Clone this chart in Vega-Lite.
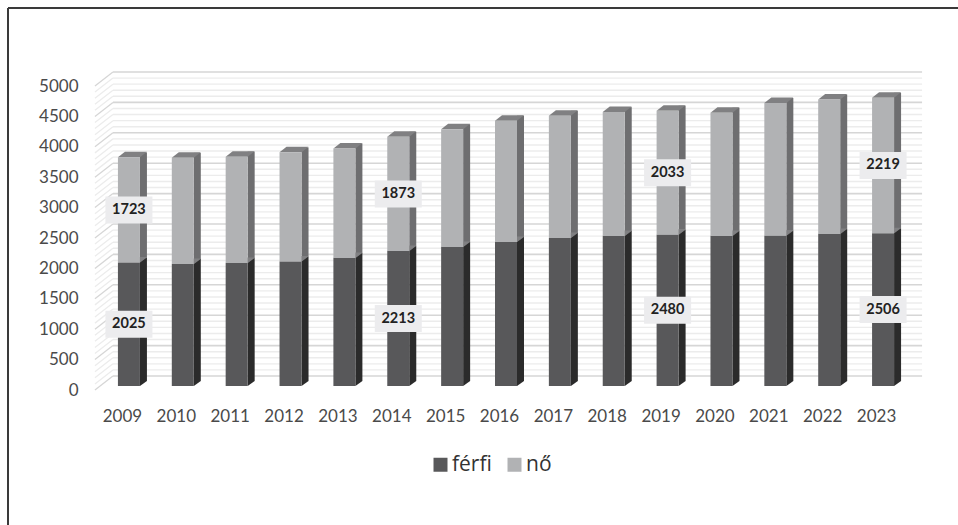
{"$schema":"https://vega.github.io/schema/vega-lite/v6.json","width":950,"height":517,"padding":{"left":8,"top":8,"right":0,"bottom":0},"autosize":{"type":"none"},"background":"white","config":{"view":{"stroke":"#3a3a3a","strokeWidth":2,"strokeDash":[950,1467,517,0]},"font":"Lato"},
"datasets":{"d":[
{"year":"2009","series":"férfi","value":2025},{"year":"2009","series":"nő","value":1723},
{"year":"2010","series":"férfi","value":2000},{"year":"2010","series":"nő","value":1740},
{"year":"2011","series":"férfi","value":2015},{"year":"2011","series":"nő","value":1745},
{"year":"2012","series":"férfi","value":2040},{"year":"2012","series":"nő","value":1790},
{"year":"2013","series":"férfi","value":2098},{"year":"2013","series":"nő","value":1797},
{"year":"2014","series":"férfi","value":2213},{"year":"2014","series":"nő","value":1873},
{"year":"2015","series":"férfi","value":2279},{"year":"2015","series":"nő","value":1931},
{"year":"2016","series":"férfi","value":2360},{"year":"2016","series":"nő","value":1990},
{"year":"2017","series":"férfi","value":2426},{"year":"2017","series":"nő","value":2004},
{"year":"2018","series":"férfi","value":2459},{"year":"2018","series":"nő","value":2031},
{"year":"2019","series":"férfi","value":2480},{"year":"2019","series":"nő","value":2033},
{"year":"2020","series":"férfi","value":2459},{"year":"2020","series":"nő","value":2021},
{"year":"2021","series":"férfi","value":2465},{"year":"2021","series":"nő","value":2175},
{"year":"2022","series":"férfi","value":2490},{"year":"2022","series":"nő","value":2205},
{"year":"2023","series":"férfi","value":2506},{"year":"2023","series":"nő","value":2219}],
"grid":[{"g":0,"m":1},{"g":100,"m":0},{"g":200,"m":0},{"g":300,"m":0},{"g":400,"m":0},{"g":500,"m":1},{"g":600,"m":0},{"g":700,"m":0},{"g":800,"m":0},{"g":900,"m":0},{"g":1000,"m":1},{"g":1100,"m":0},{"g":1200,"m":0},{"g":1300,"m":0},{"g":1400,"m":0},{"g":1500,"m":1},{"g":1600,"m":0},{"g":1700,"m":0},{"g":1800,"m":0},{"g":1900,"m":0},{"g":2000,"m":1},{"g":2100,"m":0},{"g":2200,"m":0},{"g":2300,"m":0},{"g":2400,"m":0},{"g":2500,"m":1},{"g":2600,"m":0},{"g":2700,"m":0},{"g":2800,"m":0},{"g":2900,"m":0},{"g":3000,"m":1},{"g":3100,"m":0},{"g":3200,"m":0},{"g":3300,"m":0},{"g":3400,"m":0},{"g":3500,"m":1},{"g":3600,"m":0},{"g":3700,"m":0},{"g":3800,"m":0},{"g":3900,"m":0},{"g":4000,"m":1},{"g":4100,"m":0},{"g":4200,"m":0},{"g":4300,"m":0},{"g":4400,"m":0},{"g":4500,"m":1},{"g":4600,"m":0},{"g":4700,"m":0},{"g":4800,"m":0},{"g":4900,"m":0},{"g":5000,"m":1}]},
"resolve":{"scale":{"y":"independent"},"axis":{"x":"independent"}},
"layer":[
{"data":{"name":"grid"},"mark":{"type":"rule","xOffset":-16,"x2Offset":39,"yOffset":-14},
"encoding":{"x":{"datum":"2009","type":"nominal","axis":null,"scale":{"type":"band","domain":["2009","2010","2011","2012","2013","2014","2015","2016","2017","2018","2019","2020","2021","2022","2023"],"range":[94,902],"paddingInner":0,"paddingOuter":0}},"x2":{"datum":"2023"},
"y":{"field":"g","type":"quantitative","axis":null,"scale":{"domain":[0,5000],"range":[382,78]}},
"stroke":{"condition":{"test":"datum.m===1","value":"#d6d6d6"},"value":"#ececec"},"strokeWidth":{"condition":{"test":"datum.m===1","value":1.6},"value":1.4}}},
{"data":{"name":"grid"},"mark":{"type":"rule","xOffset":-34,"x2Offset":-16,"y2Offset":-14},
"encoding":{"x":{"datum":"2009","type":"nominal","axis":null},"x2":{"datum":"2009"},
"y":{"field":"g","type":"quantitative","scale":{"domain":[0,5000],"range":[382,78]},"axis":{"title":null,"orient":"left","offset":-70,"format":"d","values":[0,500,1000,1500,2000,2500,3000,3500,4000,4500,5000],"domain":false,"ticks":false,"grid":false,"labelPadding":0,"labelFont":"Lato","labelFontSize":17,"labelColor":"#4a4a4a"}},
"y2":{"field":"g"},
"stroke":{"condition":{"test":"datum.m===1","value":"#d6d6d6"},"value":"#ececec"},"strokeWidth":{"value":1.3}}},
{"data":{"name":"d"},"mark":{"type":"bar","size":7,"xOffset":14.5,"yOffset":-5,"y2Offset":-5},
"encoding":{"x":{"field":"year","type":"nominal","axis":null},
"y":{"field":"value","type":"quantitative","stack":"zero","axis":null,"scale":{"domain":[0,5000],"range":[378,73]}},
"order":{"field":"series","sort":"ascending"},"detail":{"field":"series"},
"fill":{"condition":{"test":"datum.series==='férfi'","value":"#2b2b2b"},"value":"#6e6e70"}}},
{"data":{"name":"d"},"transform":[{"filter":"datum.series==='férfi'"}],"mark":{"type":"point","filled":true,"opacity":1,"size":4,"shape":"M11 0L18 -5L11 -5Z","fill":"#6e6e70"},
"encoding":{"x":{"field":"year","type":"nominal","axis":null},"y":{"field":"value","type":"quantitative","axis":null,"scale":{"domain":[0,5000],"range":[378,73]}}}},
{"data":{"name":"d"},"transform":[{"filter":"datum.series==='férfi'"}],"mark":{"type":"point","filled":true,"opacity":1,"size":4,"shape":"M11 0L18 -5L11 -5Z","fill":"#2b2b2b"},
"encoding":{"x":{"field":"year","type":"nominal","axis":null},"y":{"datum":0,"type":"quantitative","axis":null,"scale":{"domain":[0,5000],"range":[378,73]}}}},
{"data":{"name":"d"},"mark":{"type":"point","filled":true,"opacity":1,"size":4,"shape":"M-11 0L11 0L18 -5.5L-4 -5.5Z","fill":"#808082"},
"encoding":{"x":{"field":"year","type":"nominal","axis":null},
"y":{"field":"value","type":"quantitative","stack":"zero","axis":null,"scale":{"domain":[0,5000],"range":[378,73]}},
"order":{"field":"series","sort":"ascending"},"detail":{"field":"series"}}},
{"data":{"name":"d"},"mark":{"type":"bar","size":22},
"encoding":{"x":{"field":"year","type":"nominal","axis":{"title":null,"orient":"bottom","offset":-117,"domain":false,"ticks":false,"grid":false,"labelPadding":0,"labelAngle":0,"labelOffset":-6.5,"labelFont":"Lato","labelFontSize":17,"labelColor":"#4a4a4a","labelBaseline":"top"}},
"y":{"field":"value","type":"quantitative","stack":"zero","axis":null,"scale":{"domain":[0,5000],"range":[378,73]}},
"order":{"field":"series","sort":"ascending"},
"color":{"field":"series","type":"nominal","scale":{"domain":["férfi","nő"],"range":["#58585a","#b1b2b4"]},"legend":{"title":null,"orient":"none","legendX":422,"legendY":446,"direction":"horizontal","symbolType":"square","symbolSize":196,"symbolStrokeWidth":0,"labelFont":"Open Sans","labelFontSize":21,"labelColor":"#333333","columnPadding":12,"labelOffset":1}}}},
{"data":{"name":"d"},"transform":[{"stack":"value","groupby":["year"],"sort":[{"field":"series","order":"ascending"}],"as":["y0","y1"]},{"filter":{"field":"year","oneOf":["2009","2014","2019","2023"]}},{"fold":["y0","y1"],"as":["k","v"]},{"aggregate":[{"op":"mean","field":"v","as":"mid"}],"groupby":["year","series","value"]}],
"layer":[
{"mark":{"type":"point","filled":true,"opacity":1,"size":4,"shape":"M-23.5 -13.5H23.5V13.5H-23.5Z","fill":"#ececee"},
"encoding":{"x":{"field":"year","type":"nominal","axis":null},"y":{"field":"mid","type":"quantitative","axis":null,"scale":{"domain":[0,5000],"range":[378,73]}}}},
{"mark":{"type":"text","font":"Lato","fontWeight":"bold","fontSize":14.5,"fill":"#222222","baseline":"middle"},
"encoding":{"x":{"field":"year","type":"nominal","axis":null},"y":{"field":"mid","type":"quantitative","axis":null,"scale":{"domain":[0,5000],"range":[378,73]}},"text":{"field":"value","type":"quantitative"}}}]}
]}
